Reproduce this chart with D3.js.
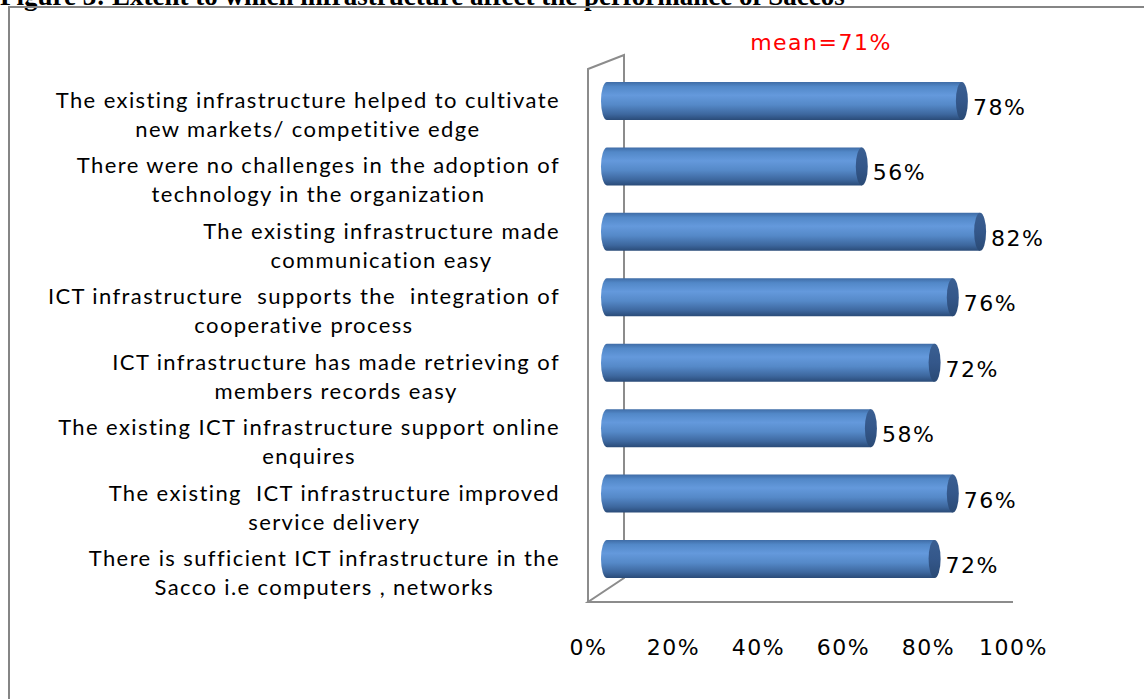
<!DOCTYPE html>
<html>
<head>
<meta charset="utf-8">
<script src="https://cdn.jsdelivr.net/npm/d3@7"></script>
<style>
  html, body { margin: 0; padding: 0; background: #fff; overflow: hidden; }
  svg { display: block; }
  .cat { font-family: Lato, "Noto Sans", sans-serif; font-size: 22px; letter-spacing: 1.4px; fill: #000; white-space: pre; }
  .num { font-family: "DejaVu Sans", Verdana, sans-serif; font-size: 22px; letter-spacing: 1.5px; fill: #000; }
</style>
</head>
<body>
<div id="chart"></div>
<script>
// chart data, top to bottom as drawn
const labels = [
  ["The existing infrastructure helped to cultivate", "new markets/ competitive edge"],
  ["There were no challenges in the adoption of", "technology in the organization"],
  ["The existing infrastructure made", "communication easy"],
  ["ICT infrastructure  supports the  integration of", "cooperative process"],
  ["ICT infrastructure has made retrieving of", "members records easy"],
  ["The existing ICT infrastructure support online", "enquires"],
  ["The existing  ICT infrastructure improved", "service delivery"],
  ["There is sufficient ICT infrastructure in the", "Sacco i.e computers , networks"]
];
const values = [78, 56, 82, 76, 72, 58, 76, 72];
const ticks = [0, 20, 40, 60, 80, 100];
const meanText = "mean=71%";
const title = "Figure 3: Extent to which infrastructure affect the performance of Saccos";

const W = 1144, H = 699;
const svg = d3.select("#chart").append("svg").attr("width", W).attr("height", H);

const defs = svg.append("defs");
const grad = defs.append("linearGradient").attr("id", "cyl")
  .attr("x1", 0).attr("y1", 0).attr("x2", 0).attr("y2", 1);
[["0%", "#3f6ca6"], ["12%", "#5288c8"], ["35%", "#6499dc"], ["60%", "#5589c8"], ["85%", "#3d679e"], ["100%", "#2a4b78"]]
  .forEach(([o, c]) => grad.append("stop").attr("offset", o).attr("stop-color", c));
const capGrad = defs.append("linearGradient").attr("id", "cap")
  .attr("x1", 0).attr("y1", 0).attr("x2", 0).attr("y2", 1);
[["0%", "#3a5f92"], ["50%", "#34578a"], ["100%", "#2a4a75"]]
  .forEach(([o, c]) => capGrad.append("stop").attr("offset", o).attr("stop-color", c));

// title (partly cut off at the top of the page, as in the source scan)
svg.append("text")
  .attr("x", 0).attr("y", 5)
  .attr("font-family", "Liberation Serif, Times New Roman, serif")
  .attr("font-weight", "bold").attr("font-size", 27)
  .text(title);

// outer frame
svg.append("rect")
  .attr("x", 9).attr("y", 7).attr("width", W + 20).attr("height", H + 20)
  .attr("fill", "none").attr("stroke", "#858585").attr("stroke-width", 2);

// scales
const cats = labels.map((d, i) => i);
const y = d3.scalePoint().domain(cats).range([101, 559]);
const xBar = d3.scaleLinear().domain([0, 100]).range([607, 1062]);
const xAxis = d3.scaleLinear().domain([0, 100]).range([588, 1013]);
const R = 19, capRx = 6;

// 3D wall + floor
const wall = svg.append("g").attr("fill", "none").attr("stroke", "#8c8c8c").attr("stroke-width", 2);
const fx = xAxis(0), bx = fx + 36, topY = 69, botY = 602, depth = 14;
wall.append("path").attr("d", `M${fx},${botY}V${topY}L${bx},${topY - depth}V${botY - 24}L${fx},${botY}H${xAxis(100)}`);

// bars (cylinders)
const bars = svg.append("g").selectAll("g").data(values).join("g");
bars.append("path")
  .attr("fill", "url(#cyl)")
  .attr("d", (v, i) => {
    const c = y(i), x0 = xBar(0), x1 = xBar(v);
    return `M${x0},${c - R}H${x1}V${c + R}H${x0}A${capRx},${R} 0 0 1 ${x0},${c - R}Z`;
  });
bars.append("ellipse")
  .attr("cx", v => xBar(v)).attr("cy", (v, i) => y(i))
  .attr("rx", capRx).attr("ry", R)
  .attr("fill", "url(#cap)");

// value labels
bars.append("text").attr("class", "num")
  .attr("x", v => xBar(v) + 11).attr("y", (v, i) => y(i) + 14)
  .text(v => v + "%");

// category labels: block right aligned at 560, lines centred inside the block
const catG = svg.append("g");
labels.forEach((lines, i) => {
  const g = catG.append("g");
  const ts = lines.map((l, j) => g.append("text").attr("class", "cat")
    .attr("text-anchor", "middle").attr("y", y(i) + 7 + j * 29).text(l));
  const maxW = d3.max(ts, t => t.node().getComputedTextLength());
  ts.forEach(t => t.attr("x", 560 - maxW / 2));
});

// x axis labels
const axis = d3.axisBottom(xAxis).tickValues(ticks).tickSize(0).tickPadding(0)
  .tickFormat(d => d + "%");
const ag = svg.append("g").attr("transform", "translate(0,639)").call(axis);
ag.select(".domain").remove();
ag.selectAll("text").attr("class", "num").attr("fill", null);

// mean annotation
svg.append("text")
  .attr("x", 821).attr("y", 50).attr("text-anchor", "middle")
  .attr("font-family", "DejaVu Sans, Verdana, sans-serif").attr("font-size", 22)
  .attr("letter-spacing", 1.5).attr("fill", "#ff0000")
  .text(meanText);
</script>
</body>
</html>
